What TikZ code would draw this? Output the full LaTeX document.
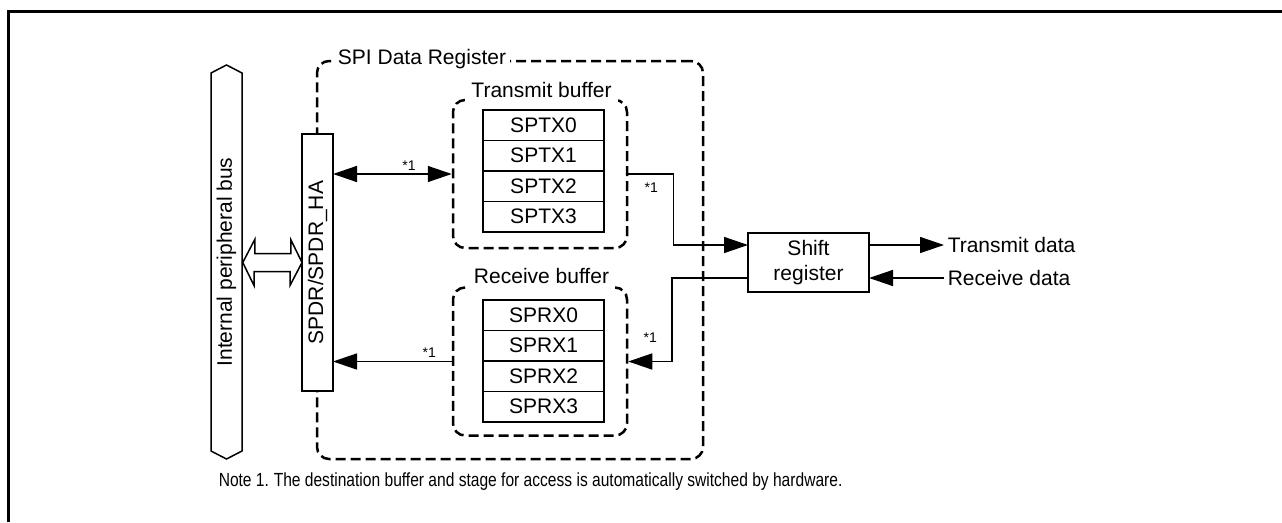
\documentclass[tikz,border=0pt]{standalone}
\usepackage{fontspec}
\setmainfont{Liberation Sans}
\newfontfamily\narrowfont{Liberation Sans}[FakeStretch=0.82]
\usetikzlibrary{arrows.meta, positioning, shapes.arrows, calc}
\tikzset{
  every picture/.style={line width=1.5pt},
  txt/.style={font=\fontsize{21}{25}\selectfont},
  star/.style={font=\fontsize{14}{16}\selectfont, inner sep=1pt},
  notetxt/.style={font=\narrowfont\fontsize{19}{22}\selectfont, anchor=base west, inner sep=0pt},
  regbox/.style={draw, fill=white, txt, inner sep=0pt, outer sep=0pt},
  cell/.style={regbox, minimum width=121pt, minimum height=30.5pt},
  bufbox/.style={draw, line width=2.5pt, dash pattern=on 10pt off 5pt, rounded corners=12pt, minimum width=174pt, minimum height=148pt, inner sep=0pt},
  buflabel/.style={txt, fill=white, inner xsep=6pt, inner ysep=7pt, anchor=base},
  arr/.style={-{Triangle[length=24pt, width=16pt]}},
  darr/.style={{Triangle[length=24pt, width=16pt]}-{Triangle[length=24pt, width=16pt]}},
}

\begin{document}
\begin{tikzpicture}[x=1pt, y=-1pt]
  \useasboundingbox (0,0) rectangle (1282,522);
  % frame
  \draw[line width=3pt] (8,522) -- (8,11) -- (1282,11);
  % bus and data register
  \node[double arrow, draw, txt, rotate=90, double arrow head extend=0pt, double arrow tip angle=125.4, minimum height=394pt, minimum width=31pt, inner sep=0pt] (bus) at (226.5,262) {Internal peripheral bus};
  \node[bufbox, minimum width=386pt, minimum height=398pt] (spireg) at (510,260) {};
  \node[buflabel, inner xsep=4pt, inner ysep=3pt] (spilabel) at (422,64) {SPI Data Register};
  \node[regbox, rotate=90, minimum width=257pt, minimum height=31pt] (spdr) at (317.5,262.5) {SPDR/SPDR\_HA};
  % hollow bus link
  \draw[fill=white] (bus.south |- spdr.center) -- ++(12,-23) -- ++(0,14) -- ++(36,0) -- ++(0,-14) -- (spdr.north |- spdr.center)
    -- ++(-12,23) -- ++(0,-14) -- ++(-36,0) -- ++(0,14) -- cycle;
  % buffers
  \node[bufbox] (txbuf) at (540,174) {};
  \node[buflabel] (txlabel) at (541.5,97) {Transmit buffer};
  \node[bufbox] (rxbuf) at (540,361.5) {};
  \node[buflabel] (rxlabel) at (541.5,283) {Receive buffer};
  \foreach \i in {0,...,3} {
    \node[cell] (tx\i) at (543.5,125.25+30.5*\i) {SPTX\i};
    \node[cell] (rx\i) at (543.5,315.25+30.5*\i) {SPRX\i};
  }
  % shift register
  \node[regbox, minimum width=121pt, minimum height=59pt, align=center] (shift) at (808.5,262.5) {Shift\\register};
  \node[txt, anchor=west, inner sep=3pt] (txd) at (944,245) {Transmit data};
  \node[txt, anchor=west, inner sep=3pt] (rxd) at (944,278) {Receive data};
  % connectors
  \draw[darr] (txbuf.west -| spdr.south) -- (txbuf.west) node[star, pos=0.64, anchor=south, yshift=2pt] {*1};
  \draw[arr] (rxbuf.west) -- (rxbuf.west -| spdr.south) node[star, pos=0.19, anchor=south, yshift=2pt] {*1};
  \draw[arr] (txbuf.east) -- ++(45,0) |- ([yshift=17.5pt]shift.west);
  \draw[arr] ([yshift=-15.5pt]shift.west) -- ++(-76,0) |- (rxbuf.east);
  \node[star] (txstar) at ([xshift=23pt, yshift=-14pt]txbuf.east) {*1};
  \node[star] (rxstar) at ([xshift=22pt, yshift=24pt]rxbuf.east) {*1};
  \draw[arr] ([yshift=17.5pt]shift.east) -- (txd.west);
  \draw[arr] (rxd.west) -- ([yshift=-15.5pt]shift.east);
  % note
  \node[notetxt] (note) at (218,486) {Note 1.};
  \node[notetxt] (notetext) at (273,486) {The destination buffer and stage for access is automatically switched by hardware.};
\end{tikzpicture}
\end{document}
